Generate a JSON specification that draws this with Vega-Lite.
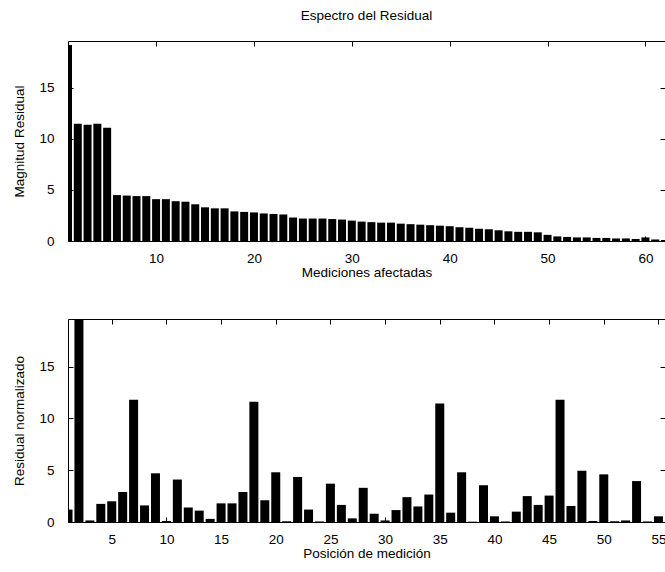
{
  "$schema": "https://vega.github.io/schema/vega-lite/v6.json",
  "padding": {"left": 12, "top": 8, "right": 2, "bottom": 2},
  "background": "white",
  "spacing": 38,
  "datasets": {
    "espectro": [
      {"medicion": 1, "magnitud": 19.2}, {"medicion": 2, "magnitud": 11.5}, {"medicion": 3, "magnitud": 11.4},
      {"medicion": 4, "magnitud": 11.5}, {"medicion": 5, "magnitud": 11.1}, {"medicion": 6, "magnitud": 4.5},
      {"medicion": 7, "magnitud": 4.45}, {"medicion": 8, "magnitud": 4.4}, {"medicion": 9, "magnitud": 4.4},
      {"medicion": 10, "magnitud": 4.1}, {"medicion": 11, "magnitud": 4.1}, {"medicion": 12, "magnitud": 3.9},
      {"medicion": 13, "magnitud": 3.85}, {"medicion": 14, "magnitud": 3.6}, {"medicion": 15, "magnitud": 3.3},
      {"medicion": 16, "magnitud": 3.2}, {"medicion": 17, "magnitud": 3.2}, {"medicion": 18, "magnitud": 2.9},
      {"medicion": 19, "magnitud": 2.85}, {"medicion": 20, "magnitud": 2.8}, {"medicion": 21, "magnitud": 2.7},
      {"medicion": 22, "magnitud": 2.65}, {"medicion": 23, "magnitud": 2.6}, {"medicion": 24, "magnitud": 2.3},
      {"medicion": 25, "magnitud": 2.2}, {"medicion": 26, "magnitud": 2.2}, {"medicion": 27, "magnitud": 2.2},
      {"medicion": 28, "magnitud": 2.15}, {"medicion": 29, "magnitud": 2.1}, {"medicion": 30, "magnitud": 2.0},
      {"medicion": 31, "magnitud": 1.9}, {"medicion": 32, "magnitud": 1.85}, {"medicion": 33, "magnitud": 1.8},
      {"medicion": 34, "magnitud": 1.8}, {"medicion": 35, "magnitud": 1.7}, {"medicion": 36, "magnitud": 1.65},
      {"medicion": 37, "magnitud": 1.6}, {"medicion": 38, "magnitud": 1.55}, {"medicion": 39, "magnitud": 1.5},
      {"medicion": 40, "magnitud": 1.45}, {"medicion": 41, "magnitud": 1.35}, {"medicion": 42, "magnitud": 1.3},
      {"medicion": 43, "magnitud": 1.2}, {"medicion": 44, "magnitud": 1.15}, {"medicion": 45, "magnitud": 1.05},
      {"medicion": 46, "magnitud": 0.95}, {"medicion": 47, "magnitud": 0.9}, {"medicion": 48, "magnitud": 0.9},
      {"medicion": 49, "magnitud": 0.85}, {"medicion": 50, "magnitud": 0.6}, {"medicion": 51, "magnitud": 0.45},
      {"medicion": 52, "magnitud": 0.4}, {"medicion": 53, "magnitud": 0.35}, {"medicion": 54, "magnitud": 0.35},
      {"medicion": 55, "magnitud": 0.3}, {"medicion": 56, "magnitud": 0.3}, {"medicion": 57, "magnitud": 0.25},
      {"medicion": 58, "magnitud": 0.25}, {"medicion": 59, "magnitud": 0.2}, {"medicion": 60, "magnitud": 0.35},
      {"medicion": 61, "magnitud": 0.15}, {"medicion": 62, "magnitud": 0.1}
    ],
    "posicion": [
      {"posicion": 1, "residual": 1.2}, {"posicion": 2, "residual": 19.6}, {"posicion": 3, "residual": 0.15},
      {"posicion": 4, "residual": 1.75}, {"posicion": 5, "residual": 2.0}, {"posicion": 6, "residual": 2.9},
      {"posicion": 7, "residual": 11.8}, {"posicion": 8, "residual": 1.6}, {"posicion": 9, "residual": 4.7},
      {"posicion": 10, "residual": 0.1}, {"posicion": 11, "residual": 4.1}, {"posicion": 12, "residual": 1.4},
      {"posicion": 13, "residual": 1.1}, {"posicion": 14, "residual": 0.3}, {"posicion": 15, "residual": 1.8},
      {"posicion": 16, "residual": 1.8}, {"posicion": 17, "residual": 2.9}, {"posicion": 18, "residual": 11.6},
      {"posicion": 19, "residual": 2.1}, {"posicion": 20, "residual": 4.8}, {"posicion": 21, "residual": 0.07},
      {"posicion": 22, "residual": 4.35}, {"posicion": 23, "residual": 1.2}, {"posicion": 24, "residual": 0.05},
      {"posicion": 25, "residual": 3.7}, {"posicion": 26, "residual": 1.65}, {"posicion": 27, "residual": 0.35},
      {"posicion": 28, "residual": 3.3}, {"posicion": 29, "residual": 0.8}, {"posicion": 30, "residual": 0.15},
      {"posicion": 31, "residual": 1.15}, {"posicion": 32, "residual": 2.4}, {"posicion": 33, "residual": 1.5},
      {"posicion": 34, "residual": 2.65}, {"posicion": 35, "residual": 11.45}, {"posicion": 36, "residual": 0.9},
      {"posicion": 37, "residual": 4.8}, {"posicion": 38, "residual": 0.03}, {"posicion": 39, "residual": 3.55},
      {"posicion": 40, "residual": 0.55}, {"posicion": 41, "residual": 0.05}, {"posicion": 42, "residual": 1.0},
      {"posicion": 43, "residual": 2.5}, {"posicion": 44, "residual": 1.65}, {"posicion": 45, "residual": 2.55},
      {"posicion": 46, "residual": 11.8}, {"posicion": 47, "residual": 1.55}, {"posicion": 48, "residual": 4.95},
      {"posicion": 49, "residual": 0.1}, {"posicion": 50, "residual": 4.6}, {"posicion": 51, "residual": 0.07},
      {"posicion": 52, "residual": 0.15}, {"posicion": 53, "residual": 3.95}, {"posicion": 54, "residual": 0.05},
      {"posicion": 55, "residual": 0.55}
    ]
  },
  "vconcat": [
    {
      "title": {"text": "Espectro del Residual"},
      "width": 597,
      "height": 200,
      "data": {"name": "espectro"},
      "layer": [
        {
          "mark": {"type": "bar", "color": "black", "size": 8, "clip": true},
          "encoding": {
            "x": {"field": "medicion", "type": "quantitative",
                  "scale": {"domain": [1, 62], "nice": false, "zero": false, "padding": 0},
                  "axis": {"values": [10, 20, 30, 40, 50, 60], "title": "Mediciones afectadas"}},
            "y": {"field": "magnitud", "type": "quantitative",
                  "scale": {"domain": [0, 19.6], "nice": false, "padding": 0},
                  "axis": {"values": [0, 5, 10, 15], "title": "Magnitud Residual"}}
          }
        },
        {
          "mark": {"type": "bar", "color": "black", "size": 8, "opacity": 0, "clip": true},
          "encoding": {
            "x": {"field": "medicion", "type": "quantitative",
                  "axis": {"orient": "top", "values": [10, 20, 30, 40, 50, 60], "labels": false, "title": null}},
            "y": {"field": "magnitud", "type": "quantitative",
                  "axis": {"orient": "right", "values": [0, 5, 10, 15], "labels": false, "title": null}}
          }
        }
      ],
      "resolve": {"axis": {"x": "independent", "y": "independent"}}
    },
    {
      "width": 597,
      "height": 203,
      "data": {"name": "posicion"},
      "layer": [
        {
          "mark": {"type": "bar", "color": "black", "size": 9, "clip": true},
          "encoding": {
            "x": {"field": "posicion", "type": "quantitative",
                  "scale": {"domain": [1, 55.6], "nice": false, "zero": false, "padding": 0},
                  "axis": {"values": [5, 10, 15, 20, 25, 30, 35, 40, 45, 50, 55], "title": "Posición de medición"}},
            "y": {"field": "residual", "type": "quantitative",
                  "scale": {"domain": [0, 19.6], "nice": false, "padding": 0},
                  "axis": {"values": [0, 5, 10, 15], "title": "Residual normalizado"}}
          }
        },
        {
          "mark": {"type": "bar", "color": "black", "size": 9, "opacity": 0, "clip": true},
          "encoding": {
            "x": {"field": "posicion", "type": "quantitative",
                  "axis": {"orient": "top", "values": [5, 10, 15, 20, 25, 30, 35, 40, 45, 50, 55], "labels": false, "title": null}},
            "y": {"field": "residual", "type": "quantitative",
                  "axis": {"orient": "right", "values": [0, 5, 10, 15], "labels": false, "title": null}}
          }
        }
      ],
      "resolve": {"axis": {"x": "independent", "y": "independent"}}
    }
  ],
  "config": {
    "view": {"stroke": "black", "strokeWidth": 1},
    "axis": {
      "grid": false, "domain": false,
      "tickColor": "black", "tickSize": -5, "tickWidth": 1,
      "labelFont": "Liberation Sans", "labelFontSize": 13.5, "labelColor": "black",
      "titleFont": "Liberation Sans", "titleFontSize": 13.5, "titleFontWeight": "normal", "titleColor": "black"
    },
    "axisX": {"labelPadding": 15, "titlePadding": 1},
    "axisY": {"labelPadding": 19, "titlePadding": 12},
    "title": {"font": "Liberation Sans", "fontSize": 13.5, "fontWeight": "normal", "color": "black", "offset": 18}
  }
}
